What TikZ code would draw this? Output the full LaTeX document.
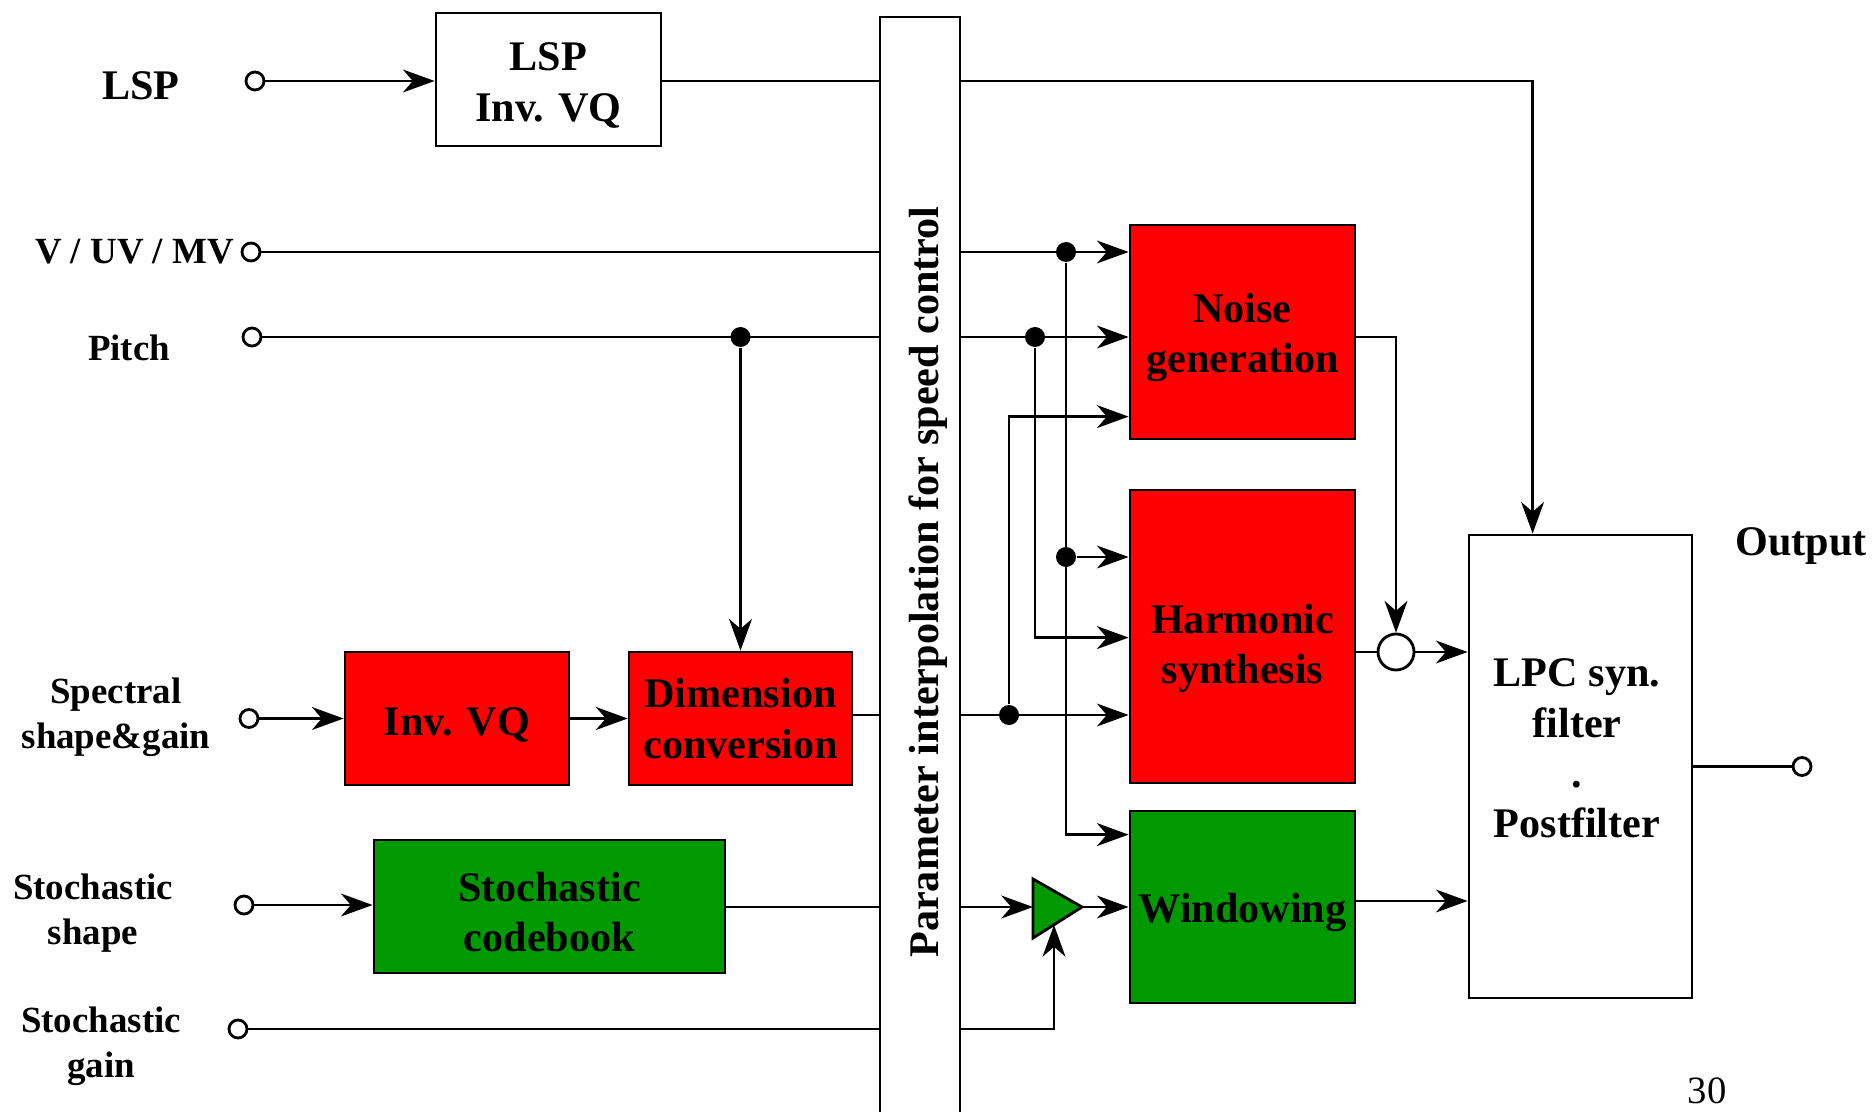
\documentclass[tikz,border=0pt]{standalone}
\usepackage{fontspec}
\setmainfont{Liberation Serif}
\usetikzlibrary{arrows.meta, positioning, calc}
\definecolor{boxred}{RGB}{255,0,0}
\definecolor{boxgreen}{RGB}{0,153,0}
\newcommand{\blockstrut}[1][0.95em]{\rule{0pt}{#1}}

\begin{document}
\begin{tikzpicture}[
  line width=0.8pt,
  >={Stealth[length=9pt, width=6.5pt, inset=2.8pt]},
  block/.style={draw, inner sep=1pt, align=center, font=\fontsize{12}{14.3}\selectfont\bfseries},
  inlabel/.style={align=center, font=\fontsize{10.5}{12.8}\selectfont\bfseries},
  term/.style={circle, draw, fill=white, inner sep=0pt, minimum size=0.18cm},
  junc/.style={circle, fill, inner sep=0pt, minimum size=0.2cm}
]
  \useasboundingbox (0,0) rectangle (18.74,-11.12);

  % input labels and terminals
  \node[font=\fontsize{12}{14.3}\selectfont\bfseries] (lsplbl) at (1.41,-0.86) {LSP};
  \node[inlabel] (vuvlbl) at (1.345,-2.52) {V / UV / MV};
  \node[inlabel] (pitchlbl) at (1.29,-3.48) {Pitch};
  \node[inlabel] (speclbl) at (1.16,-7.17) {Spectral\\shape\&gain};
  \node[inlabel] (stochlbl) at (0.93,-9.135) {Stochastic\\shape};
  \node[inlabel] (gainlbl) at (1.01,-10.46) {Stochastic\\gain};
  \node[term] (lspin) at (2.55,-0.81) {};
  \node[term] (vuvin) at (2.51,-2.52) {};
  \node[term] (pitchin) at (2.52,-3.37) {};
  \node[term] (specin) at (2.49,-7.185) {};
  \node[term] (stochin) at (2.44,-9.05) {};
  \node[term] (gainin) at (2.38,-10.29) {};

  % blocks
  \node[block, minimum width=2.25cm, minimum height=1.33cm] (lspvq) at (5.485,-0.795) {\blockstrut LSP\\Inv. VQ};
  \node[block, fill=boxred, minimum width=2.24cm, minimum height=1.33cm] (invvq) at (4.57,-7.185) {\blockstrut Inv. VQ};
  \node[block, fill=boxred, minimum width=2.23cm, minimum height=1.33cm] (dimconv) at (7.405,-7.185) {Dimension\\conversion};
  \node[block, fill=boxgreen, minimum width=3.51cm, minimum height=1.33cm] (codebook) at (5.495,-9.065) {\blockstrut Stochastic\\codebook};
  \node[draw, inner sep=0pt, minimum width=0.8cm, minimum height=11.3cm] (interp) at (9.20,-5.82) {};
  \node[rotate=90, font=\fontsize{12}{14.3}\selectfont\bfseries] (interptext) at ([xshift=0.08cm]interp.center) {Parameter interpolation for speed control};
  \node[block, fill=boxred, minimum width=2.25cm, minimum height=2.14cm] (noise) at (12.425,-3.32) {\blockstrut Noise\\generation};
  \node[block, fill=boxred, minimum width=2.25cm, minimum height=2.93cm] (harm) at (12.425,-6.365) {\blockstrut[1.25em]Harmonic\\synthesis};
  \node[block, fill=boxgreen, minimum width=2.25cm, minimum height=1.92cm] (window) at (12.425,-9.07) {\blockstrut Windowing};
  \node[block, minimum width=2.23cm, minimum height=4.63cm] (lpc) at (15.805,-7.665) {};
  \node[block, draw=none] (lpctext) at (15.77,-7.485) {LPC syn.\\filter\\.\\Postfilter};
  \node[circle, draw, inner sep=0pt, minimum size=0.36cm] (sum) at (13.96,-6.52) {};
  \node[term] (outc) at (18.02,-7.665) {};
  \node[block, draw=none] (outlbl) at (18.01,-5.40) {\blockstrut Output};
  \node[font=\fontsize{11}{13}\selectfont] (pagenum) at (17.07,-10.91) {30};

  % gain triangle
  \coordinate (amp) at (10.33,-9.07);
  \coordinate (amptip) at (10.82,-9.07);
  \coordinate (ampgain) at (10.54,-9.25);
  \draw[fill=boxgreen] (10.33,-8.79) -- (amptip) -- (10.33,-9.38) -- cycle;

  % junctions
  \node[junc] (pdot) at (dimconv.north |- pitchin) {};
  \node[junc] (vdot) at (10.66,-2.52) {};
  \node[junc] (hdot) at (10.66,-5.57) {};
  \node[junc] (qdot) at (10.35,-3.37) {};
  \node[junc] (sdot) at (10.09,-7.15) {};

  % left side
  \draw[->] (lspin) -- (lspin -| lspvq.west);
  \draw (lspvq.east |- lspin) -- (lspin -| interp.west);
  \draw (vuvin) -- (vuvin -| interp.west);
  \draw (pitchin) -- (pitchin -| interp.west);
  \draw[->] (pdot) -- (dimconv.north);
  \draw[->] (specin) -- (specin -| invvq.west);
  \draw[->] (invvq) -- (dimconv);
  \draw (dimconv.east |- sdot) -- (sdot -| interp.west);
  \draw[->] (stochin) -- (stochin -| codebook.west);
  \draw (codebook.east |- amp) -- (amp -| interp.west);
  \draw (gainin) -- (gainin -| interp.west);

  % right side
  \draw[->] (lspin -| interp.east) -| ([xshift=0.65cm]lpc.north west);
  \draw[->] (vuvin -| interp.east) -- (vuvin -| noise.west);
  \draw[->] (vdot) |- ([yshift=-0.25cm]window.north west);
  \draw[->] (hdot) -- (hdot -| harm.west);
  \draw[->] (pitchin -| interp.east) -- (pitchin -| noise.west);
  \draw[->] (qdot) |- ([yshift=-1.49cm]harm.north west);
  \draw[->] (sdot -| interp.east) -- (sdot -| harm.west);
  \draw[->] (sdot) |- ([yshift=-1.93cm]noise.north west);
  \draw[->] (amp -| interp.east) -- (amp);
  \draw[->] (gainin -| interp.east) -| (ampgain);
  \draw[->] (amptip) -- (amptip -| window.west);
  \draw[->] ([yshift=-0.05cm]noise.east) -| (sum.north);
  \draw (sum -| harm.east) -- (sum.west);
  \draw[->] (sum.east) -- (sum -| lpc.west);
  \draw[->] ([yshift=0.06cm]window.east) -- ([yshift=0.06cm]window.east -| lpc.west);
  \draw (lpc.east |- outc) -- (outc);
\end{tikzpicture}
\end{document}
